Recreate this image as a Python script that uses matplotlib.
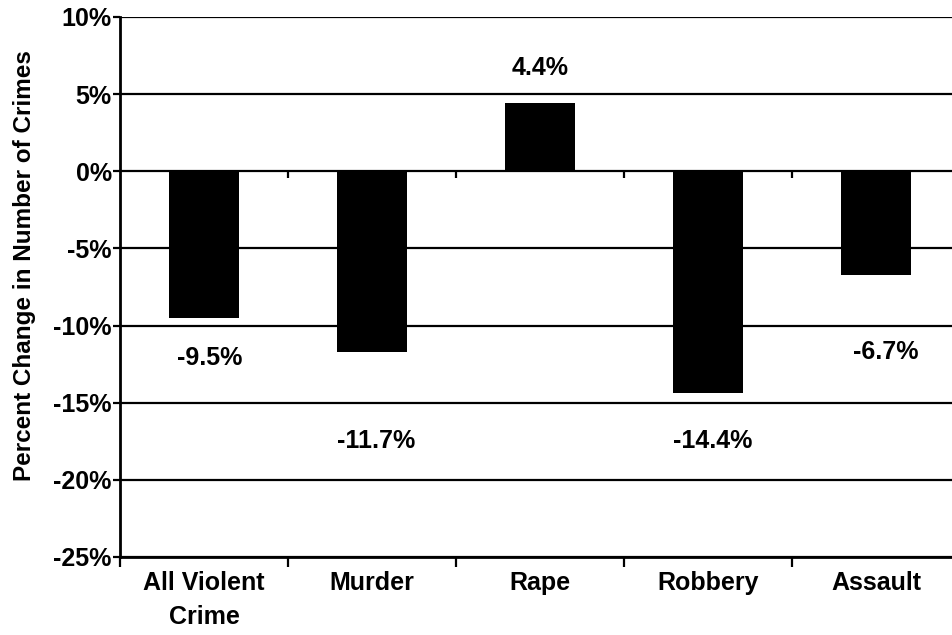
import numpy as np
import matplotlib
matplotlib.use("Agg")
import matplotlib.pyplot as plt
from matplotlib.markers import TICKDOWN

categories = ["All Violent\nCrime", "Murder", "Rape", "Robbery", "Assault"]
values = [-9.5, -11.7, 4.4, -14.4, -6.7]
value_labels = ["-9.5%", "-11.7%", "4.4%", "-14.4%", "-6.7%"]
label_y = [-12.1, -17.5, 6.7, -17.5, -11.7]
label_dx = [0.036, 0.024, 0.0, 0.03, 0.056]
yticks = [10, 5, 0, -5, -10, -15, -20, -25]

plt.rcParams['font.family'] = ['Liberation Sans', 'DejaVu Sans']

fig = plt.figure(figsize=(9.53, 6.35), dpi=100)
W, H = 953, 635
ax = fig.add_axes([120 / W, 78 / H, 840 / W, 540 / H])

x = np.arange(len(categories))
ax.bar(x, values, width=0.42, color='black', zorder=3)

ax.set_xlim(-0.5, len(categories) - 0.5)
ax.set_ylim(-25, 10)

for v in yticks:
    ax.axhline(v, color='black', lw=1.6, zorder=1)

ax.set_yticks(yticks)
ax.set_yticklabels([f"{v}%" for v in yticks], fontsize=18, fontweight='bold')
ax.tick_params(axis='y', direction='out', length=5, width=1.6, pad=1)

bounds = np.arange(len(categories) + 1) - 0.5
ax.set_xticks(bounds)
ax.set_xticklabels([])
ax.set_xticks(x, minor=True)
ax.set_xticklabels(categories, minor=True, fontsize=18, fontweight='bold',
                   linespacing=1.55)
ax.tick_params(axis='x', which='major', direction='out', length=7, width=1.6)
ax.tick_params(axis='x', which='minor', length=0, pad=10)

# tick marks on the zero line
ax.plot(bounds[1:-1], np.zeros(len(bounds) - 2), linestyle='none',
        marker=TICKDOWN, markersize=5, markeredgewidth=1.6, color='black', zorder=4)

for s in ['top', 'right']:
    ax.spines[s].set_visible(False)
for s in ['left', 'bottom']:
    ax.spines[s].set_linewidth(2)
    ax.spines[s].set_color('black')

for xi, lab, ly, dx in zip(x, value_labels, label_y, label_dx):
    ax.text(xi + dx, ly, lab, ha='center', va='center', fontsize=18, fontweight='bold')

ax.set_ylabel("Percent Change in Number of Crimes", fontsize=17.5, fontweight='bold')
ax.yaxis.set_label_coords(-0.1, 0.54)

fig.savefig("out.png", dpi=100)
